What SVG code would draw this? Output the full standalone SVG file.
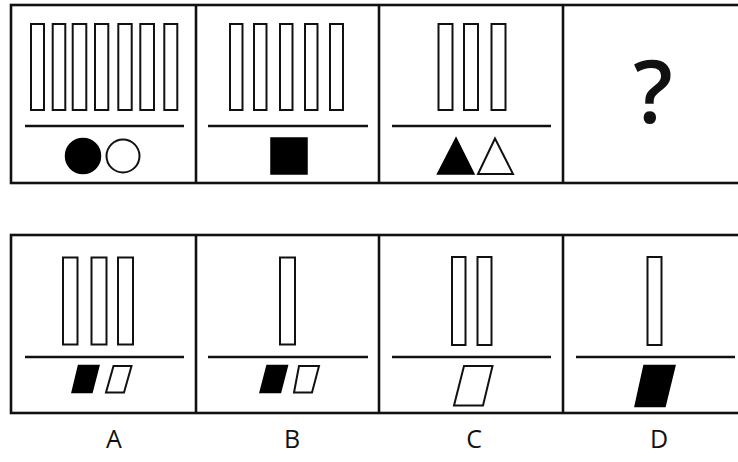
<svg xmlns="http://www.w3.org/2000/svg" width="738" height="462" viewBox="0 0 738 462">
<style>
.frame{fill:none;stroke:#111;stroke-width:2.6}
.bar{fill:#fff;stroke:#111;stroke-width:2}
.rule{stroke:#111;stroke-width:2.6}
.blk{fill:#000;stroke:#000;stroke-width:1.5}
.wht{fill:#fff;stroke:#111;stroke-width:2}
.lbl{font-family:"Open Sans","DejaVu Sans",sans-serif;fill:#111;text-anchor:middle}
</style>
<rect width="738" height="462" fill="#fff"/>
<g id="frames">
<rect class="frame" x="11" y="5" width="740" height="178"/>
<line class="frame" x1="196" y1="5" x2="196" y2="183"/>
<line class="frame" x1="379" y1="5" x2="379" y2="183"/>
<line class="frame" x1="563" y1="5" x2="563" y2="183"/>
<rect class="frame" x="11" y="235" width="740" height="178"/>
<line class="frame" x1="196" y1="235" x2="196" y2="413"/>
<line class="frame" x1="379" y1="235" x2="379" y2="413"/>
<line class="frame" x1="563" y1="235" x2="563" y2="413"/>
</g>
<g id="cell1">
<rect class="bar" x="31" y="24" width="13" height="86"/>
<rect class="bar" x="52.7" y="24" width="12.6" height="86"/>
<rect class="bar" x="72.7" y="24" width="13.6" height="86"/>
<rect class="bar" x="95" y="24" width="13.3" height="86"/>
<rect class="bar" x="118.3" y="24" width="13.4" height="86"/>
<rect class="bar" x="140.3" y="24" width="13.7" height="86"/>
<rect class="bar" x="164.3" y="24" width="13" height="86"/>
<line class="rule" x1="25" y1="126" x2="184" y2="126"/>
<circle class="blk" cx="83" cy="156" r="17.5"/>
<circle class="wht" cx="123" cy="156" r="16.5"/>
</g>
<g id="cell2">
<rect class="bar" x="230" y="24" width="12.5" height="86"/>
<rect class="bar" x="254" y="24" width="12.5" height="86"/>
<rect class="bar" x="280" y="24" width="12.5" height="86"/>
<rect class="bar" x="305" y="24" width="12.5" height="86"/>
<rect class="bar" x="330" y="24" width="13" height="86"/>
<line class="rule" x1="208" y1="126" x2="368" y2="126"/>
<rect class="blk" x="271" y="138" width="36" height="36"/>
</g>
<g id="cell3">
<rect class="bar" x="438.5" y="24" width="14" height="86"/>
<rect class="bar" x="464" y="24" width="14" height="86"/>
<rect class="bar" x="491.5" y="24" width="14" height="86"/>
<line class="rule" x1="392" y1="126" x2="551" y2="126"/>
<polygon class="blk" points="456,138 437.5,174 474,174"/>
<polygon class="wht" points="495,138.5 478,174 513,174"/>
</g>
<g id="cell4">
<text class="lbl" x="653" y="123" font-size="87" font-weight="600">?</text>
</g>
<g id="optionA">
<rect class="bar" x="63" y="257.5" width="14.5" height="87"/>
<rect class="bar" x="91.5" y="257.5" width="15" height="87"/>
<rect class="bar" x="118" y="257.5" width="15" height="87"/>
<line class="rule" x1="25" y1="357" x2="184" y2="357"/>
<polygon class="blk" points="78.5,365.5 99,365.5 92,392.5 72,392.5"/>
<polygon class="wht" points="113.5,366 131.5,366 124,392.5 106,392.5"/>
<text class="lbl" x="114" y="448" font-size="25">A</text>
</g>
<g id="optionB">
<rect class="bar" x="280" y="257.5" width="15" height="87"/>
<line class="rule" x1="208" y1="357" x2="368" y2="357"/>
<polygon class="blk" points="267,365.5 287.5,365.5 280.5,392.5 260,392.5"/>
<polygon class="wht" points="299,366 319,366 312,392.5 294,392.5"/>
<text class="lbl" x="292" y="448" font-size="25">B</text>
</g>
<g id="optionC">
<rect class="bar" x="452" y="257" width="13.5" height="88"/>
<rect class="bar" x="477.5" y="257" width="14" height="88"/>
<line class="rule" x1="392" y1="357" x2="551" y2="357"/>
<polygon class="wht" points="464,366 492.5,366 483,405.5 454,405.5"/>
<text class="lbl" x="474" y="448" font-size="25">C</text>
</g>
<g id="optionD">
<rect class="bar" x="647.5" y="257" width="14" height="88"/>
<line class="rule" x1="576" y1="357" x2="735" y2="357"/>
<polygon class="blk" points="644,365.5 675,365.5 665,406.5 635,406.5"/>
<text class="lbl" x="659" y="448" font-size="25">D</text>
</g>
<g id="connectors"></g>
</svg>
